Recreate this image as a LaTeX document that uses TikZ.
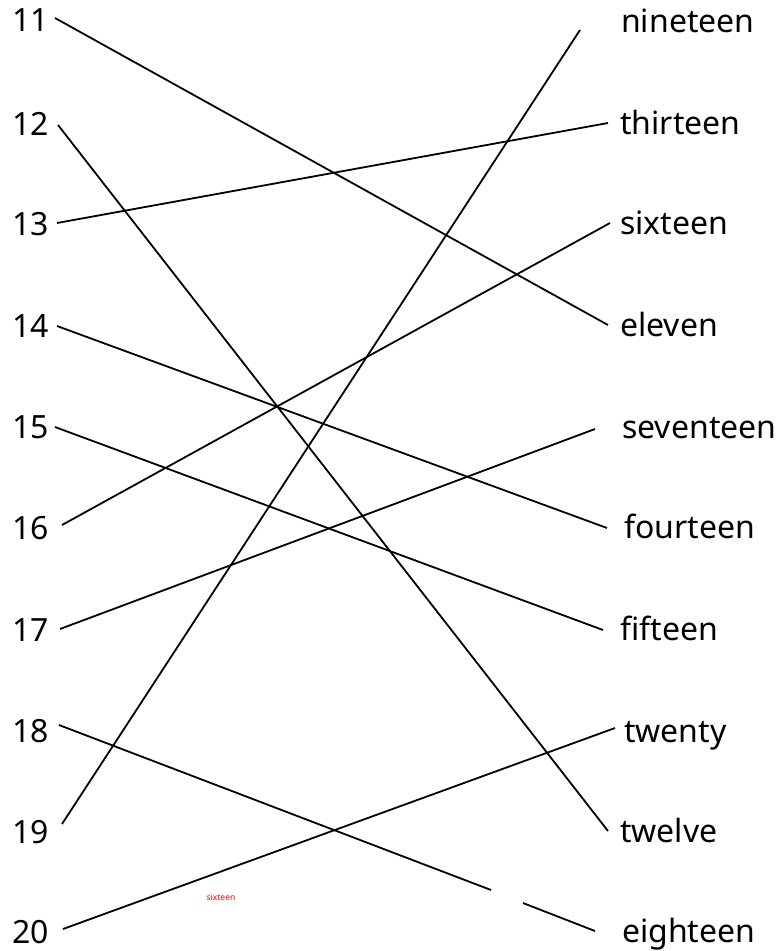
\documentclass[tikz,border=0pt]{standalone}
\usepackage{fontspec}
\setmainfont{Noto Sans}
\begin{document}
\begin{tikzpicture}[x=1pt,y=-1pt,
  lbl/.style={inner sep=0pt, font=\fontsize{32}{36}\selectfont},
  numl/.style={lbl, anchor=base west},
  wordl/.style={lbl, anchor=base west},
  link/.style={line width=1.8pt, black},
  note/.style={inner sep=0pt, text=red, font=\fontsize{8.5}{9}\selectfont}]
\useasboundingbox (0,0) rectangle (781,951);
% left numbers
\node[numl] (n11) at (12,31) {11};
\node[numl] (n12) at (12,135) {12};
\node[numl] (n13) at (12,235) {13};
\node[numl] (n14) at (12,337) {14};
\node[numl] (n15) at (12,438) {15};
\node[numl] (n16) at (12,539) {16};
\node[numl] (n17) at (12,641) {17};
\node[numl] (n18) at (12,742) {18};
\node[numl] (n19) at (12,843) {19};
\node[numl] (n20) at (12,943) {20};
% right words
\node[wordl] (w19) at (621,32) {nineteen};
\node[wordl] (w13) at (620,134) {thirteen};
\node[wordl] (w16) at (620,234) {sixteen};
\node[wordl] (w11) at (620,336) {eleven};
\node[wordl] (w17) at (622,438) {seventeen};
\node[wordl] (w14) at (624,538) {fourteen};
\node[wordl] (w15) at (620,640) {fifteen};
\node[wordl] (w20) at (624,742) {twenty};
\node[wordl] (w12) at (620,842) {twelve};
\node[wordl] (w18) at (622,942) {eighteen};
% connector ends
\coordinate (a11) at (55,18);
\coordinate (a12) at (58,125);
\coordinate (a13) at (57,223);
\coordinate (a14) at (57,326);
\coordinate (a15) at (55,427);
\coordinate (a16) at (62,525);
\coordinate (a17) at (60,629);
\coordinate (a18) at (59,725);
\coordinate (a19) at (62,824);
\coordinate (a20) at (63,929);
\coordinate (b19) at (580,30);
\coordinate (b13) at (608,123);
\coordinate (b16) at (610,223);
\coordinate (b11) at (608,325);
\coordinate (b17) at (595,429);
\coordinate (b14) at (607,528);
\coordinate (b15) at (603,630);
\coordinate (b20) at (615,728);
\coordinate (b12) at (608,831);
\coordinate (b18) at (595,931);
\coordinate (g1) at (491,890);
\coordinate (g2) at (523,903);
% connectors
\draw[link] (a11) -- (b11);
\draw[link] (a12) -- (b12);
\draw[link] (a13) -- (b13);
\draw[link] (a14) -- (b14);
\draw[link] (a15) -- (b15);
\draw[link] (a16) -- (b16);
\draw[link] (a17) -- (b17);
\draw[link] (a18) -- (g1);
\draw[link] (g2) -- (b18);
\draw[link] (a19) -- (b19);
\draw[link] (a20) -- (b20);
% stray note
\node[note] (stray) at (221,897) {sixteen};
\end{tikzpicture}
\end{document}
